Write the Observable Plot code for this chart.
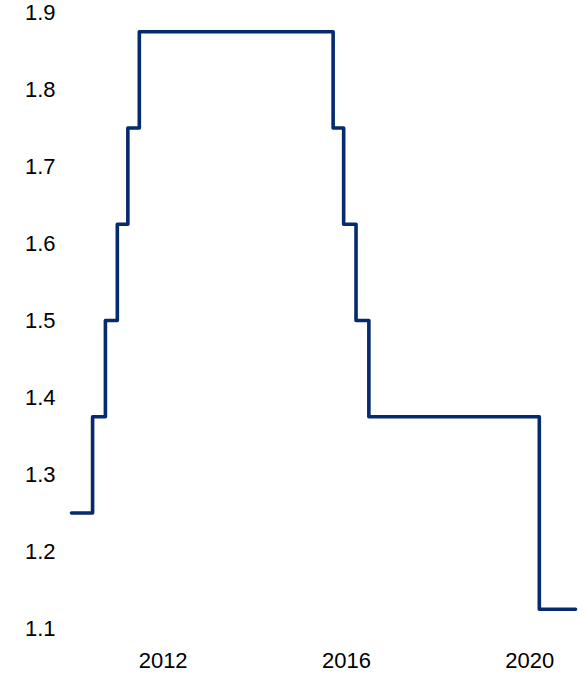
<!DOCTYPE html>
<html>
<head>
<meta charset="utf-8">
<script src="https://cdn.jsdelivr.net/npm/d3@7"></script>
<script src="https://cdn.jsdelivr.net/npm/@observablehq/plot@0.6"></script>
<style>
  html, body { margin: 0; padding: 0; background: #fff; }
  #chart { width: 584px; height: 674px; }
  #chart svg text { font-size: 22px !important; font-family: 'Liberation Sans', Arial, sans-serif !important; fill: #000; }
</style>
</head>
<body>
<div id="chart"></div>
<script>
const years = [2010.0, 2010.46, 2010.74, 2011.0, 2011.23, 2011.48, 2015.71, 2015.94, 2016.21, 2016.49, 2020.21, 2021.0];
const values = [1.25, 1.375, 1.5, 1.625, 1.75, 1.875, 1.75, 1.625, 1.5, 1.375, 1.125, 1.125];
const yTicks = [1.1, 1.2, 1.3, 1.4, 1.5, 1.6, 1.7, 1.8, 1.9];
const xTicks = [2012, 2016, 2020];

const data = years.map((x, i) => ({x, y: values[i]}));

const chart = Plot.plot({
  width: 584,
  height: 674,
  marginLeft: 71,
  marginRight: 9,
  marginTop: 12,
  marginBottom: 46,
  style: {fontFamily: "'Liberation Sans', Arial, sans-serif", color: "#000", background: "#fff"},
  x: {domain: [2010, 2021], label: null},
  y: {domain: [1.1, 1.9], label: null},
  marks: [
    Plot.axisX({ticks: xTicks, tickFormat: d => String(d), tickSize: 0, tickPadding: 24, label: null}),
    Plot.axisY({ticks: yTicks, tickFormat: d => d.toFixed(1), tickSize: 0, tickPadding: 16, label: null}),
    Plot.line(data, {x: "x", y: "y", curve: "step-after", stroke: "#062a6e", strokeWidth: 3.6, strokeLinejoin: "round"})
  ]
});
document.getElementById("chart").appendChild(chart);
</script>
</body>
</html>
